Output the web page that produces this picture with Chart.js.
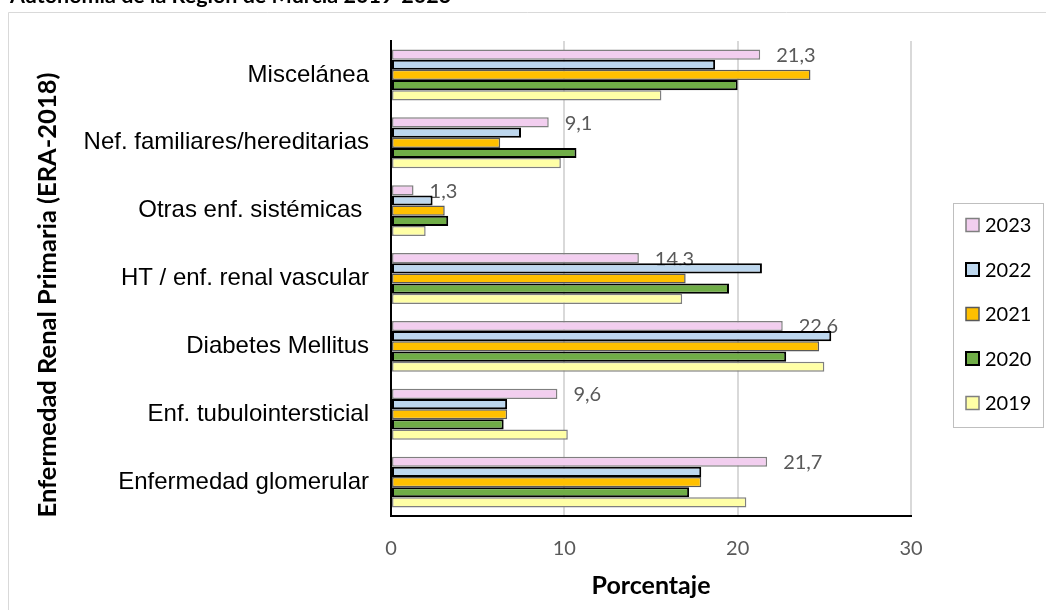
<!DOCTYPE html>
<html>
<head>
<meta charset="utf-8">
<script src="https://cdn.jsdelivr.net/npm/chart.js@4.4.1/dist/chart.umd.min.js"></script>
<style>
  html, body { margin: 0; padding: 0; background: #fff; }
  #wrap { width: 1046px; height: 610px; position: relative; }
</style>
</head>
<body>
<div id="wrap"><canvas id="grafico" width="1046" height="610"></canvas></div>
<script>
// DATOS
const titulo = "Autonomía de la Región de Murcia 2019-2023";
const categorias = [
  "Miscelánea",
  "Nef. familiares/hereditarias",
  "Otras enf. sistémicas ",
  "HT / enf. renal vascular",
  "Diabetes Mellitus",
  "Enf. tubulointersticial",
  "Enfermedad glomerular"
];
const anios = ["2023", "2022", "2021", "2020", "2019"];
const valores2023 = [21.3, 9.1, 1.3, 14.3, 22.6, 9.6, 21.7];
const valores2022 = [18.7, 7.5, 2.4, 21.4, 25.4, 6.7, 17.9];
const valores2021 = [24.2, 6.3, 3.1, 17.0, 24.7, 6.7, 17.9];
const valores2020 = [20.0, 10.7, 3.3, 19.5, 22.8, 6.5, 17.2];
const valores2019 = [15.6, 9.8, 2.0, 16.8, 25.0, 10.2, 20.5];
const ticksX = [0, 10, 20, 30];

// Colores
const rellenos = ["#F2CEEF", "#BDD7EE", "#FFC000", "#70AD47", "#FFFFA6"];
const bordes = ["#7F7F7F", "#000000", "#595959", "#000000", "#7F7F7F"];
const grosores = [1.5, 2, 1.5, 2, 1.5];
const series = [valores2023, valores2022, valores2021, valores2020, valores2019];

const fmt = v => v.toFixed(1).replace(".", ",");

// Marco, titulo cortado, leyenda y etiquetas
const extras = {
  id: "extras",
  beforeDraw(chart) {
    const ctx = chart.ctx;
    ctx.save();
    ctx.fillStyle = "#fff";
    ctx.fillRect(0, 0, chart.width, chart.height);
    ctx.strokeStyle = "#D9D9D9";
    ctx.lineWidth = 1;
    ctx.beginPath();
    ctx.moveTo(8.5, chart.height);
    ctx.lineTo(8.5, 12.5);
    ctx.lineTo(chart.width, 12.5);
    ctx.stroke();
    ctx.fillStyle = "#000";
    ctx.font = "bold 21.5px Lato";
    ctx.textBaseline = "alphabetic";
    ctx.fillText(titulo, 10, 3);
    ctx.restore();
  },
  beforeDatasetsDraw(chart) {
    const ctx = chart.ctx;
    ctx.save();
    ctx.fillStyle = "#595959";
    ctx.font = "20px Lato";
    ctx.textAlign = "left";
    ctx.textBaseline = "middle";
    chart.getDatasetMeta(0).data.forEach((bar, i) => {
      ctx.fillText(fmt(valores2023[i]), bar.x + 16, bar.y + 1);
    });
    ctx.restore();
  },
  afterDraw(chart) {
    const ctx = chart.ctx;
    ctx.save();
    // titulo eje Y
    ctx.translate(48, 295);
    ctx.rotate(-Math.PI / 2);
    ctx.fillStyle = "#000";
    ctx.font = "bold 25.5px Lato";
    ctx.textAlign = "center";
    ctx.textBaseline = "middle";
    ctx.fillText("Enfermedad Renal Primaria (ERA-2018)", 0, 0);
    ctx.restore();

    // leyenda
    ctx.save();
    ctx.strokeStyle = "#BFBFBF";
    ctx.lineWidth = 1;
    ctx.strokeRect(953.5, 203.5, 90, 224);
    ctx.font = "20px Lato";
    ctx.textBaseline = "middle";
    chart.data.datasets.forEach((ds, i) => {
      const y = 225 + i * 44.5;
      ctx.fillStyle = ds.backgroundColor;
      ctx.fillRect(966, y - 6.5, 13, 13);
      ctx.strokeStyle = ds.borderColor;
      ctx.lineWidth = ds.borderWidth;
      ctx.strokeRect(966, y - 6.5, 13, 13);
      ctx.fillStyle = "#000";
      ctx.fillText(ds.label, 985, y + 1);
    });
    ctx.restore();
  }
};

new Chart(document.getElementById("grafico"), {
  type: "bar",
  data: {
    labels: categorias,
    datasets: anios.map((a, i) => ({
      label: a,
      data: series[i],
      backgroundColor: rellenos[i],
      borderColor: bordes[i],
      borderWidth: grosores[i],
      borderSkipped: false,
      categoryPercentage: 0.75,
      barPercentage: 1.0
    }))
  },
  options: {
    indexAxis: "y",
    responsive: false,
    animation: false,
    devicePixelRatio: 1,
    layout: { padding: { top: 41, right: 135, left: 0, bottom: 0 } },
    plugins: {
      legend: { display: false },
      tooltip: { enabled: false }
    },
    scales: {
      x: {
        min: 0,
        max: 30,
        afterFit: s => { s.height = 94; },
        afterBuildTicks: s => { s.ticks = ticksX.map(v => ({ value: v })); },
        ticks: {
          color: "#595959",
          font: { family: "Lato", size: 20 },
          padding: 21
        },
        grid: {
          drawTicks: false,
          color: ctx => ctx.tick && ctx.tick.value === 0 ? "rgba(0,0,0,0)" : "#D9D9D9",
          lineWidth: 2
        },
        border: { display: true, color: "#000", width: 2 },
        title: {
          display: true,
          text: "Porcentaje",
          color: "#000",
          font: { family: "Lato", size: 25, weight: "bold" },
          padding: { top: 0, bottom: 9 }
        }
      },
      y: {
        afterFit: s => { s.width = 391; },
        ticks: {
          color: "#000",
          font: { family: "Liberation Sans", size: 24 },
          padding: 22
        },
        grid: { display: false, drawTicks: false },
        border: { display: true, color: "#000", width: 2 }
      }
    }
  },
  plugins: [extras]
});
</script>
</body>
</html>
